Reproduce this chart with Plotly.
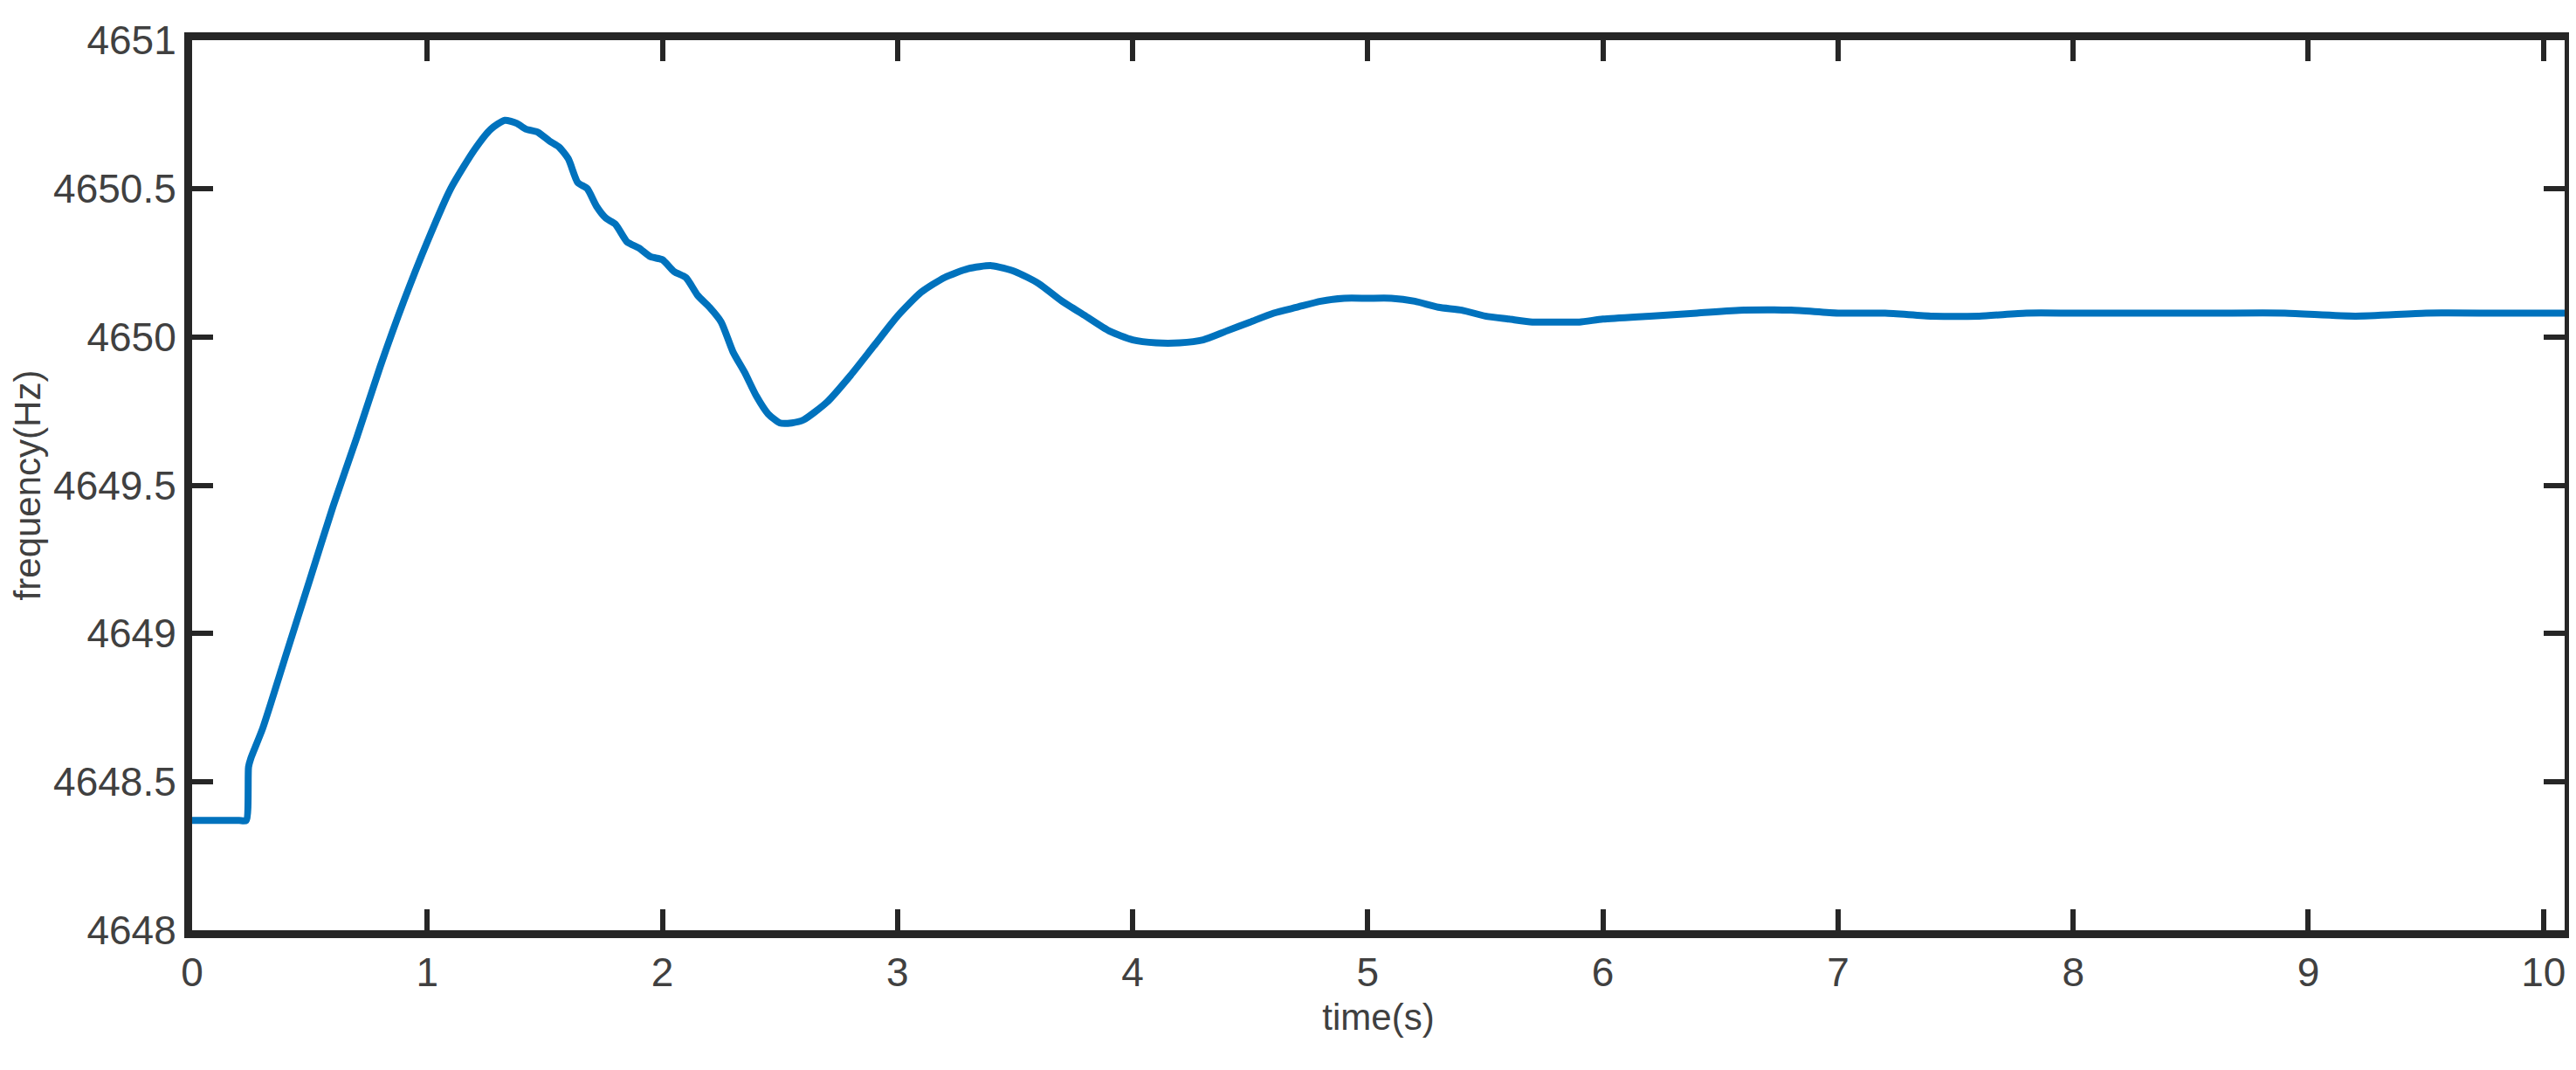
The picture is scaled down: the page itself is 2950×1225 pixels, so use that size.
import plotly.graph_objects as go

# time (s) and frequency (Hz)
time_s = [0.0, 0.1, 0.2, 0.23, 0.24, 0.25, 0.3, 0.4, 0.5, 0.6, 0.7, 0.8, 0.9, 1.0,
          1.1, 1.2, 1.27, 1.33, 1.38, 1.42, 1.47, 1.52, 1.56, 1.6, 1.64, 1.68, 1.72,
          1.76, 1.8, 1.85, 1.9, 1.95, 2.0, 2.05, 2.1, 2.15, 2.2, 2.25, 2.3, 2.35,
          2.4, 2.45, 2.5, 2.55, 2.6, 2.7, 2.8, 2.9, 3.0, 3.1, 3.2, 3.3, 3.4, 3.5,
          3.6, 3.7, 3.8, 3.9, 4.0, 4.1, 4.2, 4.3, 4.4, 4.5, 4.6, 4.7, 4.8, 4.9,
          5.0, 5.1, 5.2, 5.3, 5.4, 5.5, 5.6, 5.7, 5.8, 5.9, 6.0, 6.2, 6.4, 6.6,
          6.8, 7.0, 7.2, 7.4, 7.6, 7.8, 8.0, 8.3, 8.6, 8.9, 9.2, 9.5, 9.8, 10.09]
freq_hz = [4648.37, 4648.37, 4648.37, 4648.37, 4648.55, 4648.58, 4648.68, 4648.93,
           4649.18, 4649.43, 4649.66, 4649.9, 4650.12, 4650.32, 4650.5, 4650.63,
           4650.7, 4650.73, 4650.72, 4650.7, 4650.69, 4650.66, 4650.64, 4650.6,
           4650.52, 4650.5, 4650.44, 4650.4, 4650.38, 4650.32, 4650.3, 4650.27,
           4650.26, 4650.22, 4650.2, 4650.14, 4650.1, 4650.05, 4649.95, 4649.88,
           4649.8, 4649.74, 4649.71, 4649.71, 4649.72, 4649.78, 4649.87, 4649.97,
           4650.07, 4650.15, 4650.2, 4650.23, 4650.24, 4650.22, 4650.18, 4650.12,
           4650.07, 4650.02, 4649.99, 4649.98, 4649.98, 4649.99, 4650.02, 4650.05,
           4650.08, 4650.1, 4650.12, 4650.13, 4650.13, 4650.13, 4650.12, 4650.1,
           4650.09, 4650.07, 4650.06, 4650.05, 4650.05, 4650.05, 4650.06, 4650.07,
           4650.08, 4650.09, 4650.09, 4650.08, 4650.08, 4650.07, 4650.07, 4650.08,
           4650.08, 4650.08, 4650.08, 4650.08, 4650.07, 4650.08, 4650.08, 4650.08]

fig = go.Figure(go.Scatter(x=time_s, y=freq_hz, mode="lines",
                           line=dict(color="#0072BD", width=8, shape="spline", smoothing=0.6)))

axis_style = dict(showline=True, linecolor="#262626", linewidth=9, mirror="ticks",
                  ticks="inside", ticklen=24, tickwidth=6, tickcolor="#262626",
                  showgrid=False, zeroline=False, separatethousands=False,
                  tickfont=dict(size=46, color="#404040"))

fig.update_xaxes(range=[0, 10.09], dtick=1, title=dict(text="time(s)", font=dict(size=42, color="#404040"), standoff=15),
                 **axis_style)
fig.update_yaxes(range=[4648, 4651], dtick=0.5, tickformat="d", title=dict(text="frequency(Hz)", font=dict(size=42, color="#404040"), standoff=12),
                 **axis_style)
fig.update_yaxes(tickformat="~r")

fig.update_layout(width=2950, height=1225, plot_bgcolor="white", paper_bgcolor="white",
                  font=dict(family="Liberation Sans, Arial", color="#404040"),
                  margin=dict(l=205, r=15, t=38, b=168), showlegend=False,
                  separators=". ")

fig.write_html("out.html")
